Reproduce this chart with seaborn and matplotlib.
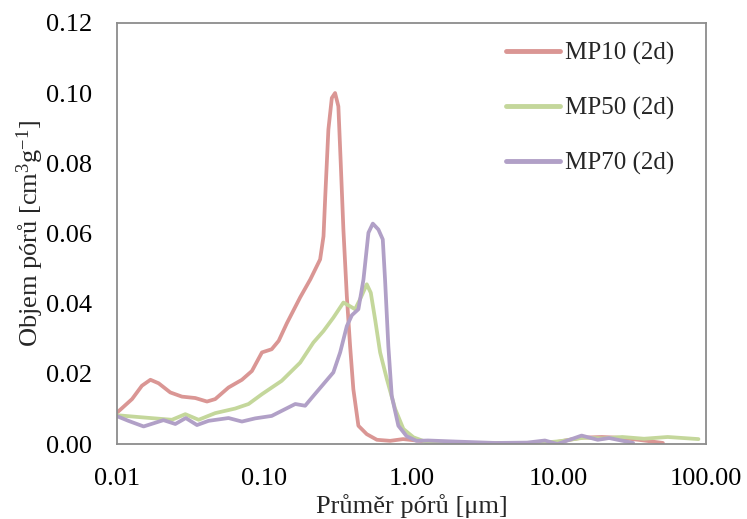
import matplotlib
matplotlib.use("Agg")
import matplotlib.pyplot as plt
from matplotlib.ticker import FixedLocator, NullLocator, FixedFormatter
import seaborn as sns
import pandas as pd

# Pore diameter [um] and pore volume [cm3/g] for each mix after 2 days
mp10_d = [0.010, 0.0126, 0.0147, 0.0168, 0.0191, 0.0229, 0.0275, 0.0339, 0.0407, 0.0463,
          0.057, 0.0703, 0.0822, 0.0962, 0.112, 0.125, 0.142, 0.175, 0.205, 0.239,
          0.252, 0.259, 0.272, 0.287, 0.302, 0.318, 0.330, 0.344, 0.363, 0.382,
          0.402, 0.435, 0.496, 0.581, 0.715, 0.875, 1.19, 1.99, 3.76, 7.1,
          9.75, 14.3, 19.6, 25.3, 34.8, 51.0]
mp10_v = [0.0090, 0.0128, 0.0166, 0.0183, 0.0173, 0.0147, 0.0135, 0.0131, 0.0121, 0.0128,
          0.0161, 0.0183, 0.0208, 0.0261, 0.0270, 0.0294, 0.0344, 0.0418, 0.0469, 0.0526,
          0.0592, 0.0706, 0.0896, 0.0986, 0.1000, 0.0962, 0.0800, 0.0611, 0.0421, 0.0279,
          0.0156, 0.0052, 0.0028, 0.0012, 0.0009, 0.0014, 0.0008, 0.0003, 0.0002, 0.0003,
          0.0006, 0.0018, 0.0020, 0.0018, 0.0012, 0.0003]

mp50_d = [0.010, 0.0147, 0.0235, 0.029, 0.0357, 0.0463, 0.0632, 0.078, 0.0962, 0.131,
          0.175, 0.215, 0.252, 0.294, 0.344, 0.380, 0.413, 0.446, 0.496, 0.528,
          0.565, 0.611, 0.679, 0.773, 0.879, 1.03, 1.27, 1.99, 3.8, 7.0,
          10.2, 14.8, 20.0, 27.0, 38.0, 55.0, 89.0]
mp50_v = [0.0082, 0.0076, 0.0069, 0.0085, 0.0069, 0.0088, 0.0101, 0.0114, 0.0142, 0.0180,
          0.0232, 0.0289, 0.0322, 0.0360, 0.0403, 0.0393, 0.0384, 0.0412, 0.0455, 0.0431,
          0.0355, 0.0261, 0.0185, 0.0100, 0.0043, 0.0019, 0.0005, 0.0003, 0.0002, 0.0002,
          0.0008, 0.0018, 0.0016, 0.0020, 0.0015, 0.0020, 0.0014]

mp70_d = [0.010, 0.0119, 0.0151, 0.0206, 0.0248, 0.0292, 0.0348, 0.0417, 0.057, 0.0703,
          0.0865, 0.112, 0.162, 0.189, 0.215, 0.252, 0.294, 0.327, 0.363, 0.393,
          0.435, 0.471, 0.509, 0.545, 0.595, 0.637, 0.660, 0.695, 0.733, 0.813,
          0.926, 1.08, 1.29, 1.99, 3.7, 6.1, 8.05, 9.8, 14.3, 18.4,
          22.0, 32.0]
mp70_v = [0.0079, 0.0066, 0.0050, 0.0068, 0.0057, 0.0074, 0.0054, 0.0066, 0.0074, 0.0064,
          0.0073, 0.0080, 0.0114, 0.0109, 0.0137, 0.0171, 0.0204, 0.0261, 0.0336, 0.0367,
          0.0384, 0.0469, 0.0602, 0.0628, 0.0611, 0.0583, 0.0469, 0.0279, 0.0137, 0.0052,
          0.0022, 0.0009, 0.0010, 0.0007, 0.0003, 0.0004, 0.0010, 0.0000, 0.0024, 0.0012,
          0.0017, 0.0003]

series_names = ["MP10 (2d)", "MP50 (2d)", "MP70 (2d)"]
colors = ["#DA9694", "#C4D79B", "#B1A0C7"]

x_ticks = [0.01, 0.1, 1, 10, 100]
x_tick_labels = ["0.01", "0.10", "1.00", "10.00", "100.00"]
y_ticks = [0.00, 0.02, 0.04, 0.06, 0.08, 0.10, 0.12]
y_tick_labels = ["0.00", "0.02", "0.04", "0.06", "0.08", "0.10", "0.12"]

df = pd.concat([
    pd.DataFrame({"d": mp10_d, "v": mp10_v, "série": series_names[0]}),
    pd.DataFrame({"d": mp50_d, "v": mp50_v, "série": series_names[1]}),
    pd.DataFrame({"d": mp70_d, "v": mp70_v, "série": series_names[2]}),
], ignore_index=True)

sns.set_style("white")
plt.rcParams["font.family"] = ["Liberation Serif", "DejaVu Serif"]
plt.rcParams["mathtext.fontset"] = "custom"
plt.rcParams["mathtext.rm"] = "Liberation Serif"
plt.rcParams["mathtext.it"] = "Liberation Serif:italic"
FS = 19

fig = plt.figure(figsize=(7.47, 5.19), dpi=100)
ax = fig.add_axes([0.157, 0.1445, 0.788, 0.8115])

sns.lineplot(data=df, x="d", y="v", hue="série", palette=colors, hue_order=series_names,
             estimator=None, sort=True, linewidth=2.7, ax=ax)
for ln in ax.get_lines():
    ln.set_solid_joinstyle("round")
    ln.set_solid_capstyle("round")

ax.set_xscale("log")
ax.set_xlim(0.01, 100)
ax.set_ylim(0, 0.12)
ax.xaxis.set_major_locator(FixedLocator(x_ticks))
ax.xaxis.set_major_formatter(FixedFormatter(x_tick_labels))
ax.xaxis.set_minor_locator(NullLocator())
ax.set_yticks(y_ticks)
ax.set_yticklabels(y_tick_labels)

frame_color = "#8C8C8C"
for s in ax.spines.values():
    s.set_color(frame_color)
    s.set_linewidth(1.3)
ax.tick_params(axis="both", which="major", direction="out", length=6, width=1.3,
               color=frame_color, labelsize=FS, labelcolor="black", pad=12)
ax.tick_params(axis="x", pad=11)

ax.set_xlabel("Průměr pórů [μm]", fontsize=FS, labelpad=3)
ax.set_ylabel(r"Objem pórů [cm$^{3}$g$^{-1}$]", fontsize=FS, labelpad=0)

leg = ax.legend(loc="upper right", bbox_to_anchor=(0.985, 1.008), frameon=False, fontsize=18,
                handlelength=2.15, handletextpad=0.22, labelspacing=1.28)
for line in leg.get_lines():
    line.set_linewidth(3.5)

fig.savefig("out.png", dpi=100)
